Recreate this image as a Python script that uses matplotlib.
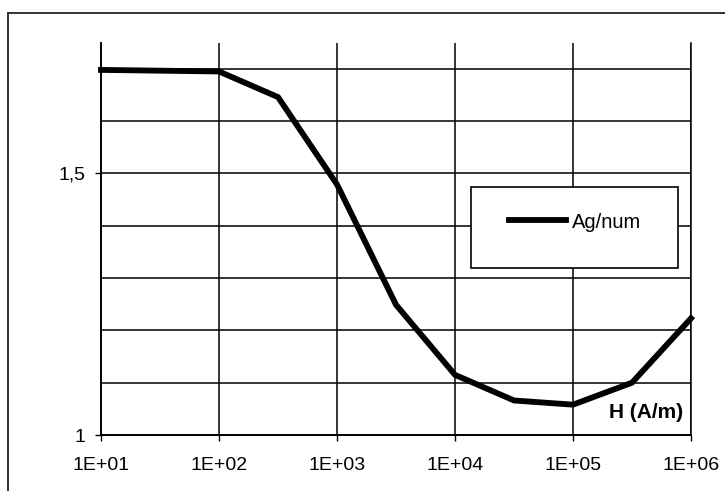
import matplotlib
matplotlib.use("Agg")
import matplotlib.pyplot as plt
from matplotlib.lines import Line2D
from matplotlib.patches import Rectangle

plt.rcParams['font.family'] = ['Liberation Sans', 'DejaVu Sans']

# Data
H = [1e1, 1e2, 10**2.5, 1e3, 10**3.5, 1e4, 10**4.5, 1e5, 10**5.5, 1e6]
ag_num = [1.698, 1.695, 1.646, 1.479, 1.249, 1.115, 1.066, 1.058, 1.100, 1.223]
series_label = "Ag/num"
xtick_vals = [1e1, 1e2, 1e3, 1e4, 1e5, 1e6]
xtick_labels = ["1E+01", "1E+02", "1E+03", "1E+04", "1E+05", "1E+06"]
ytick_vals = [1.0, 1.5]
ytick_labels = ["1", "1,5"]
ygrid_vals = [1.1, 1.2, 1.3, 1.4, 1.6, 1.7]
xlabel_text = "H (A/m)"

W, Hpx = 725, 491
fig = plt.figure(figsize=(W / 100, Hpx / 100), dpi=100)
ax = fig.add_axes([101 / W, 1 - 435 / Hpx, (691 - 101) / W, (435 - 42.7) / Hpx])

ax.set_xscale('log')
ax.set_xlim(1e1, 1e6)
ax.set_ylim(1.0, 1.75)

# Grid
ax.set_xticks(xtick_vals)
ax.set_xticklabels(xtick_labels)
ax.xaxis.set_minor_locator(matplotlib.ticker.NullLocator())
ax.set_yticks(ytick_vals)
ax.set_yticklabels(ytick_labels)
ax.set_yticks(ygrid_vals, minor=True)
ax.grid(True, which='major', axis='x', color='black', lw=1.1)
ax.grid(True, which='both', axis='y', color='black', lw=1.1)
ax.tick_params(axis='y', which='minor', length=0)
ax.tick_params(axis='y', which='major', length=4, width=1, pad=7, labelsize=14, direction='out')
ax.tick_params(axis='x', which='major', length=4.5, width=1, pad=11, labelsize=14, direction='out')

ax.spines['top'].set_visible(False)
ax.spines['right'].set_linewidth(1.1)
ax.spines['left'].set_linewidth(1.4)
ax.spines['bottom'].set_linewidth(1.4)

ax.plot(H, ag_num, color='black', lw=4.2, solid_joinstyle='miter', label=series_label, zorder=5, clip_on=False)

# Legend box
fig.patches.append(Rectangle((471 / W, 1 - 268 / Hpx), (678 - 471) / W, (268 - 187) / Hpx,
                             transform=fig.transFigure, facecolor='white', edgecolor='black',
                             lw=1.2, zorder=6))
leg = fig.legend(handles=[Line2D([], [], color='black', lw=4.2)], labels=[series_label],
                 loc='center', bbox_to_anchor=(575 / W, 1 - 222 / Hpx), frameon=False,
                 fontsize=14.5, handlelength=2.8, handletextpad=0.3)
leg.set_zorder(7)

fig.text(683 / W, 1 - 413 / Hpx, xlabel_text, ha='right', va='center', fontsize=15, fontweight='bold')

# Outer frame (top and left)
fig.add_artist(Line2D([8 / W, 1.0], [1 - 13 / Hpx, 1 - 13 / Hpx], transform=fig.transFigure, color='#333333', lw=1.4))
fig.add_artist(Line2D([8 / W, 8 / W], [0.0, 1 - 13 / Hpx], transform=fig.transFigure, color='#333333', lw=1.4))

fig.savefig("out.png", dpi=100)
